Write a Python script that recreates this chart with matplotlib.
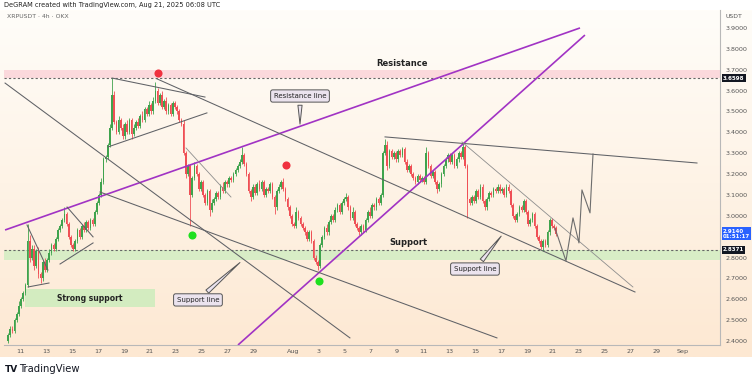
import numpy as np
import matplotlib
matplotlib.use("Agg")
import matplotlib.pyplot as plt
from matplotlib.colors import LinearSegmentedColormap
from matplotlib.patches import Rectangle

# ---------------- data (4h candles, XRPUSDT, from Jul 10 00:00 UTC) ----------------
start_day = 10.0          # July 10 (days counted from July 0; Aug 1 = 32)
open0 = 2.40
closes = [
    2.43, 2.46, 2.45, 2.50, 2.53, 2.57,   # Jul 10
    2.60, 2.63, 2.67, 2.88, 2.80, 2.84,   # Jul 11
    2.76, 2.83, 2.72, 2.70, 2.78, 2.74,   # Jul 12
    2.79, 2.82, 2.86, 2.84, 2.89, 2.93,   # Jul 13
    2.95, 2.98, 3.01, 2.96, 2.90, 2.86,   # Jul 14
    2.84, 2.88, 2.93, 2.90, 2.95, 2.93,   # Jul 15
    2.97, 2.94, 2.98, 2.96, 3.02, 3.06,   # Jul 16
    3.10, 3.16, 3.27, 3.28, 3.34, 3.42,   # Jul 17
    3.58, 3.45, 3.40, 3.46, 3.42, 3.38,   # Jul 18
    3.44, 3.40, 3.46, 3.39, 3.42, 3.45,   # Jul 19
    3.43, 3.48, 3.46, 3.51, 3.49, 3.53,   # Jul 20
    3.50, 3.55, 3.60, 3.54, 3.58, 3.52,   # Jul 21
    3.55, 3.50, 3.53, 3.49, 3.54, 3.52,   # Jul 22
    3.50, 3.46, 3.44, 3.30, 3.20, 3.24,   # Jul 23
    3.10, 3.18, 3.24, 3.20, 3.13, 3.16,   # Jul 24
    3.10, 3.06, 3.12, 3.03, 3.06, 3.08,   # Jul 25
    3.11, 3.09, 3.14, 3.12, 3.16, 3.15,   # Jul 26
    3.18, 3.17, 3.20, 3.22, 3.24, 3.26,   # Jul 27
    3.29, 3.25, 3.20, 3.12, 3.09, 3.14,   # Jul 28
    3.11, 3.15, 3.13, 3.16, 3.10, 3.13,   # Jul 29
    3.12, 3.15, 3.09, 3.04, 3.12, 3.14,   # Jul 30
    3.16, 3.13, 3.08, 3.04, 3.00, 2.96,   # Jul 31
    2.95, 3.02, 2.99, 2.96, 2.94, 2.92,   # Aug 1
    2.89, 2.92, 2.88, 2.80, 2.78, 2.76,   # Aug 2
    2.86, 2.90, 2.94, 2.92, 2.97, 3.00,   # Aug 3
    2.98, 3.03, 3.05, 3.02, 3.06, 3.08,   # Aug 4
    3.09, 3.04, 2.99, 3.02, 2.96, 2.94,   # Aug 5
    2.92, 2.95, 2.93, 2.98, 3.02, 3.00,   # Aug 6
    3.05, 3.04, 3.08, 3.06, 3.10, 3.30,   # Aug 7
    3.34, 3.24, 3.31, 3.28, 3.30, 3.27,   # Aug 8
    3.31, 3.29, 3.32, 3.26, 3.22, 3.24,   # Aug 9
    3.20, 3.18, 3.16, 3.19, 3.17, 3.18,   # Aug 10
    3.16, 3.30, 3.24, 3.19, 3.21, 3.16,   # Aug 11
    3.13, 3.15, 3.20, 3.24, 3.27, 3.29,   # Aug 12
    3.26, 3.29, 3.24, 3.27, 3.30, 3.28,   # Aug 13
    3.33, 3.24, 3.08, 3.06, 3.09, 3.07,   # Aug 14
    3.12, 3.09, 3.14, 3.07, 3.04, 3.08,   # Aug 15
    3.11, 3.10, 3.13, 3.12, 3.14, 3.12,   # Aug 16
    3.13, 3.10, 3.14, 3.12, 3.05, 3.00,   # Aug 17
    2.98, 3.01, 3.04, 3.03, 3.07, 3.02,   # Aug 18
    2.96, 2.98, 3.01, 2.95, 2.90, 2.88,   # Aug 19
    2.85, 2.88, 2.86, 2.92, 2.98, 2.95,   # Aug 20
    2.94, 2.914,                          # Aug 21
]
# upper / lower wick beyond the body, in cents
upper_wick = [
    1,1,1,1,1,2,  1,1,1,8,3,2,  2,1,2,1,1,2,  1,2,1,1,1,1,  1,1,3,1,1,1,  1,1,1,1,1,2,
    1,1,1,1,1,1,  1,2,1,1,1,2,  8,2,1,2,1,2,  1,2,1,1,2,1,  2,1,2,1,1,2,  1,2,4,1,1,2,
    1,2,1,1,1,1,  1,1,1,2,1,1,  1,1,2,1,1,1,  1,1,1,1,2,1,  1,1,1,2,1,1,  1,1,1,1,1,1,
    4,1,1,1,1,1,  1,1,2,1,1,1,  1,1,1,1,1,1,  1,2,1,1,1,1,  1,2,1,1,1,1,  1,1,1,1,1,1,
    1,1,1,2,1,1,  1,1,1,1,1,1,  2,1,1,2,1,1,  1,1,1,1,1,2,  1,1,1,1,1,1,  3,2,1,1,1,1,
    1,1,1,1,1,1,  1,1,1,1,1,1,  1,3,1,1,1,1,  1,1,1,1,1,1,  1,1,1,1,1,1,  2,1,1,1,1,1,
    1,1,1,1,1,1,  1,1,1,1,1,1,  1,1,1,1,1,1,  1,1,1,1,1,1,  1,1,1,1,1,1,  1,1,1,1,1,1,
    1,1,
]
lower_wick = [
    1,1,1,1,1,1,  1,1,1,1,2,1,  2,1,2,2,1,1,  1,1,1,1,1,1,  1,1,1,1,1,1,  1,1,1,1,1,1,
    1,1,1,1,1,1,  1,1,1,1,1,1,  1,1,1,1,1,1,  1,1,1,2,1,1,  1,1,1,1,1,1,  1,1,1,1,1,1,
    1,1,1,1,1,1,  1,1,1,1,2,1,  15,1,1,1,1,1, 1,1,1,3,1,1,  1,1,1,1,1,1,  1,1,1,1,1,1,
    1,1,1,1,2,1,  1,1,1,1,1,1,  1,1,1,3,1,1,  1,1,1,1,1,1,  1,1,1,1,1,1,  1,1,1,1,1,2,
    1,1,1,1,1,1,  1,1,1,1,1,1,  1,1,1,1,1,1,  1,1,1,1,1,1,  1,1,1,1,1,1,  1,2,1,1,1,1,
    1,1,1,1,1,1,  1,1,1,1,1,1,  1,1,1,1,1,1,  2,1,1,1,1,1,  1,1,1,1,1,1,  1,1,9,1,1,1,
    1,1,1,1,1,1,  1,1,1,1,1,1,  1,1,1,1,1,1,  1,1,1,1,1,1,  1,1,1,1,1,1,  1,2,1,1,1,1,
    1,1,
]

# levels / zones
resistance_zone = (3.6598, 3.70)
support_zone = (2.788, 2.8371)
strong_support = (11.38, 21.38, 2.563, 2.649)
last_price, last_timer = 2.9140, "01:51:17"

# drawn lines (day, price) pairs
purple_lines = [((9.85, 2.932), (54.08, 3.90)),
                ((27.77, 2.381), (54.46, 3.866))]
grey_lines = [((9.85, 3.636), (36.38, 2.415)),
              ((17.15, 3.114), (47.69, 2.415)),
              ((21.54, 3.656), (58.31, 2.635)),
              ((18.08, 3.660), (25.23, 3.569)),
              ((17.77, 3.330), (25.38, 3.493)),
              ((11.54, 2.956), (13.15, 2.740)),
              ((11.62, 2.659), (13.23, 2.678)),
              ((14.62, 3.042), (16.62, 2.899)),
              ((14.08, 2.769), (16.62, 2.870)),
              ((39.08, 3.378), (63.08, 3.253))]
thin_lines = [((23.77, 3.325), (27.23, 3.090)),
              ((45.00, 3.354), (58.15, 2.659))]
proj_days = [52.15, 53.00, 53.54, 54.00, 54.23, 54.85, 55.08]
proj_prices = [2.942, 2.784, 2.990, 2.870, 3.124, 3.014, 3.296]

red_dots = [(21.6, 3.684), (31.46, 3.244)]
green_dots = [(24.23, 2.908), (34.0, 2.688)]

callouts = [("Resistance line", (32.54, 3.574), (32.54, 3.426)),
            ("Support line", (24.69, 2.597), (28.08, 2.785)),
            ("Support line", (46.0, 2.745), (48.15, 2.913))]

price_ticks = [3.9, 3.8, 3.7, 3.6, 3.5, 3.4, 3.3, 3.2, 3.1, 3.0, 2.8, 2.7, 2.6, 2.5, 2.4]
date_ticks = [11, 13, 15, 17, 19, 21, 23, 25, 27, 29, 32, 34, 36, 38, 40, 42, 44, 46,
              48, 50, 52, 54, 56, 58, 60, 62]
date_labels = ["11", "13", "15", "17", "19", "21", "23", "25", "27", "29", "Aug", "3", "5",
               "7", "9", "11", "13", "15", "17", "19", "21", "23", "25", "27", "29", "Sep"]

# ---------------- figure ----------------
W, H = 752, 381
fig = plt.figure(figsize=(W / 100, H / 100), dpi=100)
fig.patch.set_facecolor("white")


def fx(px):
    return px / W


def fy(py):
    return 1 - py / H


# gradient background
bg = fig.add_axes([0, fy(357), 1, fy(10) - fy(357)], zorder=0)
cmap = LinearSegmentedColormap.from_list("bg", ["#fffdf9", "#fef3e6", "#fde8d2"])
bg.imshow(np.linspace(0, 1, 256).reshape(-1, 1), aspect="auto", cmap=cmap,
          extent=[0, 1, 0, 1], origin="upper")
bg.axis("off")

ax = fig.add_axes([fx(4), fy(345), fx(720) - fx(4), fy(10) - fy(345)], zorder=1)
ax.set_facecolor("none")
ax.set_xlim(9.769, 64.85)
ax.set_ylim(2.381, 3.986)

# zones
ax.axhspan(*resistance_zone, color="#fbd9dc", zorder=1, lw=0)
ax.axhspan(*support_zone, color="#d8edc6", zorder=1, lw=0)
ax.axhline(resistance_zone[0], color="#666666", lw=0.8, ls=(0, (2, 2)), zorder=2)
ax.axhline(support_zone[1], color="#666666", lw=0.8, ls=(0, (2, 2)), zorder=2)
x0, x1, y0, y1 = strong_support
ax.add_patch(Rectangle((x0, y0), x1 - x0, y1 - y0, color="#d3ecc0", lw=0, zorder=1))
ax.text((x0 + x1) / 2, (y0 + y1) / 2, "Strong support", ha="center", va="center",
        fontsize=5.5, fontweight="bold", color="#222222", zorder=6)
ax.text(40.38, 3.732, "Resistance", ha="center", va="center", fontsize=6,
        fontweight="bold", color="#222222", zorder=6)
ax.text(40.85, 2.870, "Support", ha="center", va="center", fontsize=6,
        fontweight="bold", color="#222222", zorder=6)

# candles
c = np.array(closes)
o = np.r_[open0, c[:-1]]
hi = np.maximum(o, c) + np.array(upper_wick) / 100.0
lo = np.minimum(o, c) - np.array(lower_wick) / 100.0
x = start_day + np.arange(len(c)) / 6.0 + 1 / 12.0
up = c >= o
cols = np.where(up, "#3fa34d", "#ef4f55")
ax.vlines(x, lo, hi, colors=cols, lw=0.6, zorder=3)
ax.bar(x, np.maximum(np.abs(c - o), 0.005), bottom=np.minimum(o, c), width=0.135,
       color=cols, lw=0, zorder=3)

# lines
for (a, b) in purple_lines:
    ax.plot([a[0], b[0]], [a[1], b[1]], color="#a133c4", lw=1.2, zorder=4,
            solid_capstyle="butt")
for (a, b) in grey_lines:
    ax.plot([a[0], b[0]], [a[1], b[1]], color="#5f6166", lw=0.75, zorder=4)
for (a, b) in thin_lines:
    ax.plot([a[0], b[0]], [a[1], b[1]], color="#8d8d8d", lw=0.6, zorder=4)
ax.plot(proj_days, proj_prices, color="#6d6d6d", lw=0.8, zorder=4)

# dots
ax.scatter([d for d, p in red_dots], [p for d, p in red_dots], s=34, color="#f0313f",
           zorder=5, lw=0)
ax.scatter([d for d, p in green_dots], [p for d, p in green_dots], s=34,
           color="#1fe01f", zorder=5, lw=0)

# callouts
for txt, pos, tgt in callouts:
    ax.annotate(txt, xy=tgt, xytext=pos, ha="center", va="center", fontsize=5,
                color="#222222", zorder=7,
                bbox=dict(boxstyle="round,pad=0.45,rounding_size=0.3", fc="#ebe3ee",
                          ec="#555555", lw=0.7),
                arrowprops=dict(arrowstyle="wedge,tail_width=0.6,shrink_factor=0.5",
                                fc="#ebe3ee", ec="#555555", lw=0.7))

# axes styling
for s in ["top", "left"]:
    ax.spines[s].set_visible(False)
ax.spines["right"].set_color("#b8b8b8")
ax.spines["bottom"].set_color("#b8b8b8")
ax.spines["right"].set_linewidth(0.8)
ax.spines["bottom"].set_linewidth(0.8)
ax.yaxis.tick_right()
ax.set_yticks(price_ticks)
ax.set_yticklabels([f"{v:.4f}" for v in price_ticks])
ax.set_xticks(date_ticks)
ax.set_xticklabels(date_labels)
ax.tick_params(axis="both", length=0, labelsize=4.6, colors="#555555")
ax.tick_params(axis="y", pad=4)
ax.tick_params(axis="x", pad=3)

# price tags
def tag(price, text, fc):
    ax.annotate(text, xy=(1.0, price), xycoords=("axes fraction", "data"),
                xytext=(2, 0), textcoords="offset points", ha="left", va="center",
                fontsize=4.0, color="white", fontweight="bold", zorder=8,
                annotation_clip=False, linespacing=1.1,
                bbox=dict(boxstyle="square,pad=0.22", fc=fc, ec="none"))

tag(resistance_zone[0], "3.6598", "#131722")
tag(support_zone[1], "2.8371", "#131722")
tag(last_price, f"{last_price:.4f}\n{last_timer}", "#2962ff")

# header / footer texts
fig.text(fx(4), fy(5), "DeGRAM created with TradingView.com, Aug 21, 2025 06:08 UTC",
         fontsize=4.8, color="#222222", va="center", ha="left")
fig.text(fx(7), fy(17), "XRPUSDT · 4h · OKX", fontsize=4.4, color="#666666",
         va="center", ha="left", zorder=3)
fig.text(fx(726), fy(17), "USDT", fontsize=4.4, color="#555555", va="center",
         ha="left", zorder=3)
fig.text(fx(5), fy(369), "TV", fontsize=6.5, fontweight="heavy", color="#131722",
         va="center", ha="left")
fig.text(fx(19), fy(369), "TradingView", fontsize=7.2, color="#131722",
         va="center", ha="left")

fig.savefig("out.png", dpi=100, facecolor="white")
